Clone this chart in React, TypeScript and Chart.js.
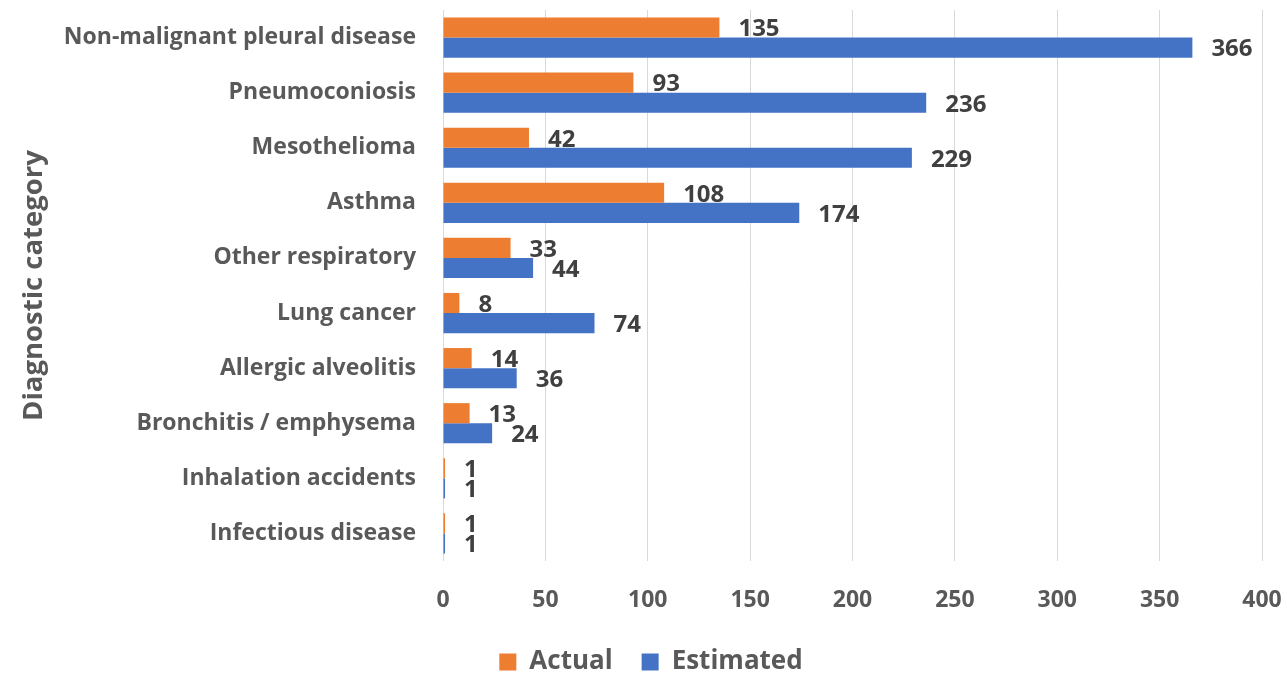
import React, { useEffect, useRef } from "react";
import { Chart, registerables } from "chart.js";

Chart.register(...registerables);

const categories = [
  "Non-malignant pleural disease",
  "Pneumoconiosis",
  "Mesothelioma",
  "Asthma",
  "Other respiratory",
  "Lung cancer",
  "Allergic alveolitis",
  "Bronchitis / emphysema",
  "Inhalation accidents",
  "Infectious disease",
];
const actualValues = [135, 93, 42, 108, 33, 8, 14, 13, 1, 1];
const estimatedValues = [366, 236, 229, 174, 44, 74, 36, 24, 1, 1];
const xTicks = [0, 50, 100, 150, 200, 250, 300, 350, 400];

const FONT = "'Open Sans', 'DejaVu Sans', sans-serif";
const AXIS_GREY = "#595959";
const LABEL_DARK = "#404040";

// Writes each bar's value just past its end.
const valueLabels = {
  id: "valueLabels",
  afterDatasetsDraw(chart: any) {
    const ctx = chart.ctx;
    ctx.save();
    ctx.font = `700 24px ${FONT}`;
    ctx.fillStyle = LABEL_DARK;
    ctx.textAlign = "left";
    ctx.textBaseline = "middle";
    chart.data.datasets.forEach((ds: any, di: number) => {
      const meta = chart.getDatasetMeta(di);
      meta.data.forEach((bar: any, i: number) => {
        ctx.fillText(String(ds.data[i]), bar.x + 19, bar.y + 2);
      });
    });
    ctx.restore();
  },
};

// Fixes the legend band height and nudges the row right of the canvas centre.
const LEGEND_BAND = 53;
const LEGEND_SHIFT = 20;
const legendPlacement = {
  id: "legendPlacement",
  afterInit(chart: any) {
    const lg = chart.legend;
    if (!lg) return;
    const orig = lg.fit.bind(lg);
    lg.fit = function () {
      orig();
      this.height = LEGEND_BAND;
    };
  },
  afterLayout(chart: any) {
    const lg = chart.legend;
    if (!lg) return;
    lg.left += LEGEND_SHIFT;
    lg.right += LEGEND_SHIFT;
  },
};

export default function App() {
  const ref = useRef<HTMLCanvasElement | null>(null);

  useEffect(() => {
    if (!ref.current) return;
    const chart = new Chart(ref.current, {
      type: "bar",
      data: {
        labels: categories,
        datasets: [
          {
            label: "Actual",
            data: actualValues,
            backgroundColor: "#ED7D31",
            categoryPercentage: 0.73,
            barPercentage: 1,
          },
          {
            label: "Estimated",
            data: estimatedValues,
            backgroundColor: "#4472C4",
            categoryPercentage: 0.73,
            barPercentage: 1,
          },
        ],
      },
      options: {
        indexAxis: "y",
        animation: false,
        responsive: true,
        maintainAspectRatio: false,
        layout: { padding: { left: 0, right: 25, top: 10, bottom: 0 } },
        scales: {
          x: {
            min: 0,
            max: 400,
            afterBuildTicks(scale: any) {
              scale.ticks = xTicks.map((v) => ({ value: v }));
            },
            afterFit(scale: any) {
              scale.height = 59;
              scale.paddingLeft = 0;
              scale.paddingRight = 0;
            },
            grid: { color: "#d9d9d9", lineWidth: 1, drawTicks: false },
            border: { display: false },
            ticks: {
              padding: 26,
              color: AXIS_GREY,
              font: { family: FONT, size: 23, weight: "700" as any },
              maxRotation: 0,
            },
          },
          y: {
            afterFit(scale: any) {
              scale.width = 443;
              scale.paddingTop = 0;
              scale.paddingBottom = 0;
            },
            grid: { display: false, drawTicks: false },
            border: { display: false },
            ticks: {
              padding: 27,
              color: AXIS_GREY,
              font: { family: FONT, size: 23, weight: "700" as any },
            },
            title: {
              display: true,
              text: "Diagnostic category",
              color: AXIS_GREY,
              font: { family: FONT, size: 27.5, weight: "700" as any },
              padding: { top: 18, bottom: 0 },
            },
          },
        },
        plugins: {
          legend: {
            position: "bottom",
            labels: {
              color: AXIS_GREY,
              font: { family: FONT, size: 26, weight: "700" as any },
              boxWidth: 17,
              boxHeight: 17,
              padding: 29,
            },
          },
          tooltip: { enabled: false },
        },
      },
      plugins: [valueLabels, legendPlacement],
    });
    return () => chart.destroy();
  }, []);

  return (
    <div
      style={{
        position: "fixed",
        left: 0,
        top: 0,
        width: 1287,
        height: 673,
        background: "#ffffff",
      }}
    >
      <canvas ref={ref} />
    </div>
  );
}
